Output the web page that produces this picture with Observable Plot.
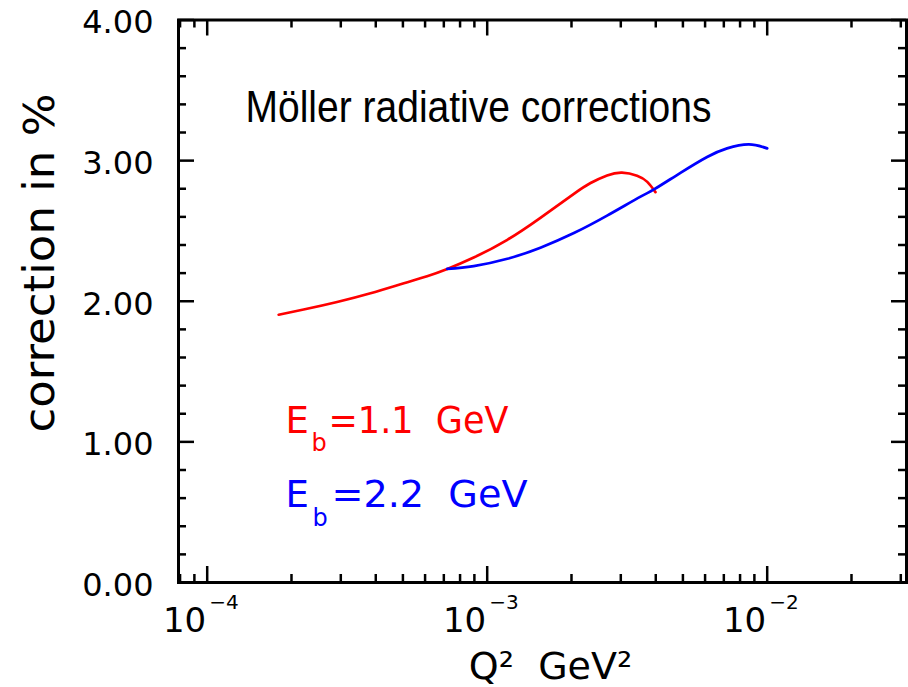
<!DOCTYPE html>
<html><head><meta charset="utf-8">
<script src="https://cdn.jsdelivr.net/npm/d3@7"></script>
<script src="https://cdn.jsdelivr.net/npm/@observablehq/plot@0.6"></script>
<style>html,body{margin:0;padding:0;background:#fff;} svg{display:block}</style>
</head><body><div id="chart"></div>
<script>
// ---- data ----
const redQ2   = [1.8e-4, 2.21e-4, 2.91e-4, 3.83e-4, 5.04e-4, 6.1e-4, 7.2e-4, 8.95e-4, 1.18e-3, 1.549e-3, 2.04e-3, 2.34e-3, 2.68e-3, 3.03e-3, 3.43e-3, 3.73e-3, 3.99e-3];
const redCorr = [1.904, 1.941, 1.995, 2.057, 2.128, 2.178, 2.230, 2.311, 2.437, 2.593, 2.764, 2.841, 2.895, 2.915, 2.893, 2.849, 2.776];
const blueQ2   = [7.2e-4, 8.95e-4, 1.18e-3, 1.549e-3, 2.04e-3, 2.68e-3, 3.53e-3, 3.94e-3, 4.9e-3, 6.1e-3, 7.19e-3, 8.6e-3, 1.0e-2];
const blueCorr = [2.230, 2.250, 2.302, 2.381, 2.485, 2.609, 2.744, 2.795, 2.913, 3.026, 3.087, 3.115, 3.087];

const xMajorTicks = [1e-4, 1e-3, 1e-2];
const xTickBase = ["10", "10", "10"];
const xTickExp = ["\u22124", "\u22123", "\u22122"];
const xMinorTicks = [8e-5, 9e-5,
  2e-4, 3e-4, 4e-4, 5e-4, 6e-4, 7e-4, 8e-4, 9e-4,
  2e-3, 3e-3, 4e-3, 5e-3, 6e-3, 7e-3, 8e-3, 9e-3,
  2e-2, 3e-2];
const yMajorTicks = [0, 1, 2, 3, 4];
const yTickLabels = ["0.00", "1.00", "2.00", "3.00", "4.00"];
const yMinorTicks = [0.2, 0.4, 0.6, 0.8, 1.2, 1.4, 1.6, 1.8, 2.2, 2.4, 2.6, 2.8, 3.2, 3.4, 3.6, 3.8];

const titleText = "Möller radiative corrections";
const xLabel = "Q\u00B2  GeV\u00B2";
const yLabel = "correction in %";
const legendMain = ["E", "E"];
const legendSub = ["b", "b"];
const legendRest = ["=1.1  GeV", "=2.2  GeV"];
const seriesColors = ["#ff0000", "#0000ff"];

// ---- layout ----
const W = 908, H = 687;
const mL = 178, mR = 2, mT = 19.5, mB = 105;
const innerW = W - mL - mR, innerH = H - mT - mB;
const FONT = "DejaVu Sans";
const at = (px, py) => ({frameAnchor: "top-left", dx: px - mL, dy: py - mT});

const red = redQ2.map((q, i) => ({q2: q, corr: redCorr[i]}));
const blue = blueQ2.map((q, i) => ({q2: q, corr: blueCorr[i]}));

const legendMarks = [];
const legendPos = [
  {e: [285, 432.7], b: [311, 450], r: [328, 432.7]},
  {e: [285, 506.7], b: [312, 525], r: [331, 506.7]}
];
legendMain.forEach((m, i) => {
  const p = legendPos[i];
  legendMarks.push(Plot.text([m], {text: d => d, ...at(...p.e), textAnchor: "start", lineAnchor: "bottom", fontSize: 37, fontFamily: FONT, fill: seriesColors[i]}));
  legendMarks.push(Plot.text([legendSub[i]], {text: d => d, ...at(...p.b), textAnchor: "start", lineAnchor: "bottom", fontSize: 24, fontFamily: FONT, fill: seriesColors[i]}));
  legendMarks.push(Plot.text([legendRest[i]], {text: d => d, ...at(...p.r), textAnchor: "start", lineAnchor: "bottom", fontSize: 37, fontFamily: FONT, fill: seriesColors[i]}));
});

const chart = Plot.plot({
  width: W, height: H,
  marginLeft: mL, marginRight: mR, marginTop: mT, marginBottom: mB,
  style: {fontFamily: FONT, background: "white"},
  x: {type: "log", domain: [Math.pow(10, -4.1025), Math.pow(10, -1.5025)], axis: null},
  y: {domain: [0, 4], axis: null},
  marks: [
    // ticks (inward, on all four sides)
    Plot.tickX(xMajorTicks, {x: d => d, insetTop: innerH - 16, stroke: "black", strokeWidth: 2.5}),
    Plot.tickX(xMajorTicks, {x: d => d, insetBottom: innerH - 16, stroke: "black", strokeWidth: 2.5}),
    Plot.tickX(xMinorTicks, {x: d => d, insetTop: innerH - 8, stroke: "black", strokeWidth: 2.5}),
    Plot.tickX(xMinorTicks, {x: d => d, insetBottom: innerH - 8, stroke: "black", strokeWidth: 2.5}),
    Plot.tickY(yMajorTicks, {y: d => d, insetRight: innerW - 16, stroke: "black", strokeWidth: 2.5}),
    Plot.tickY(yMajorTicks, {y: d => d, insetLeft: innerW - 15, stroke: "black", strokeWidth: 2.5}),
    Plot.tickY(yMinorTicks, {y: d => d, insetRight: innerW - 8, stroke: "black", strokeWidth: 2.5}),
    Plot.tickY(yMinorTicks, {y: d => d, insetLeft: innerW - 8, stroke: "black", strokeWidth: 2.5}),
    Plot.frame({stroke: "black", strokeWidth: 3}),
    // tick labels
    Plot.text(yMajorTicks, {y: d => d, text: (d, i) => yTickLabels[i], frameAnchor: "left", textAnchor: "end", lineAnchor: "middle", dx: -25, dy: 3, fontSize: 32, fontFamily: FONT, fill: "black"}),
    Plot.text(xMajorTicks, {x: d => d, text: (d, i) => xTickBase[i], frameAnchor: "bottom", textAnchor: "end", lineAnchor: "bottom", dx: -1, dy: 49, fontSize: 34, fontFamily: FONT, fill: "black"}),
    Plot.text(xMajorTicks, {x: d => d, text: (d, i) => xTickExp[i], frameAnchor: "bottom", textAnchor: "start", lineAnchor: "bottom", dx: 2, dy: 26, fontSize: 20, fontFamily: FONT, fill: "black"}),
    // axis titles
    Plot.text([xLabel], {text: d => d, frameAnchor: "bottom", textAnchor: "middle", lineAnchor: "bottom", dx: 8, dy: 96, fontSize: 38, fontFamily: FONT, fill: "black"}),
    Plot.text([yLabel], {text: d => d, frameAnchor: "left", rotate: -90, textAnchor: "middle", lineAnchor: "bottom", dx: -125, dy: 262.5 - (mT + innerH / 2), fontSize: 43, fontFamily: FONT, fill: "black"}),
    // title inside
    Plot.text([titleText], {text: d => d, ...at(245, 121.7), textAnchor: "start", lineAnchor: "bottom", fontSize: 44, fontFamily: "Liberation Sans", fill: "black"}),
    // curves
    Plot.line(red, {x: "q2", y: "corr", stroke: seriesColors[0], strokeWidth: 2.7, curve: "natural"}),
    Plot.line(blue, {x: "q2", y: "corr", stroke: seriesColors[1], strokeWidth: 2.7, curve: "natural"}),
    ...legendMarks
  ]
});

document.getElementById("chart").appendChild(chart);

function setLen(content, len) {
  chart.querySelectorAll("text").forEach(t => {
    if (t.textContent === content) {
      t.setAttribute("textLength", len);
      t.setAttribute("lengthAdjust", "spacingAndGlyphs");
    }
  });
}
setLen(titleText, 466);
setLen(yLabel, 339);
setLen(legendRest[0], 180);
setLen(legendRest[1], 196);
</script>
</body></html>
